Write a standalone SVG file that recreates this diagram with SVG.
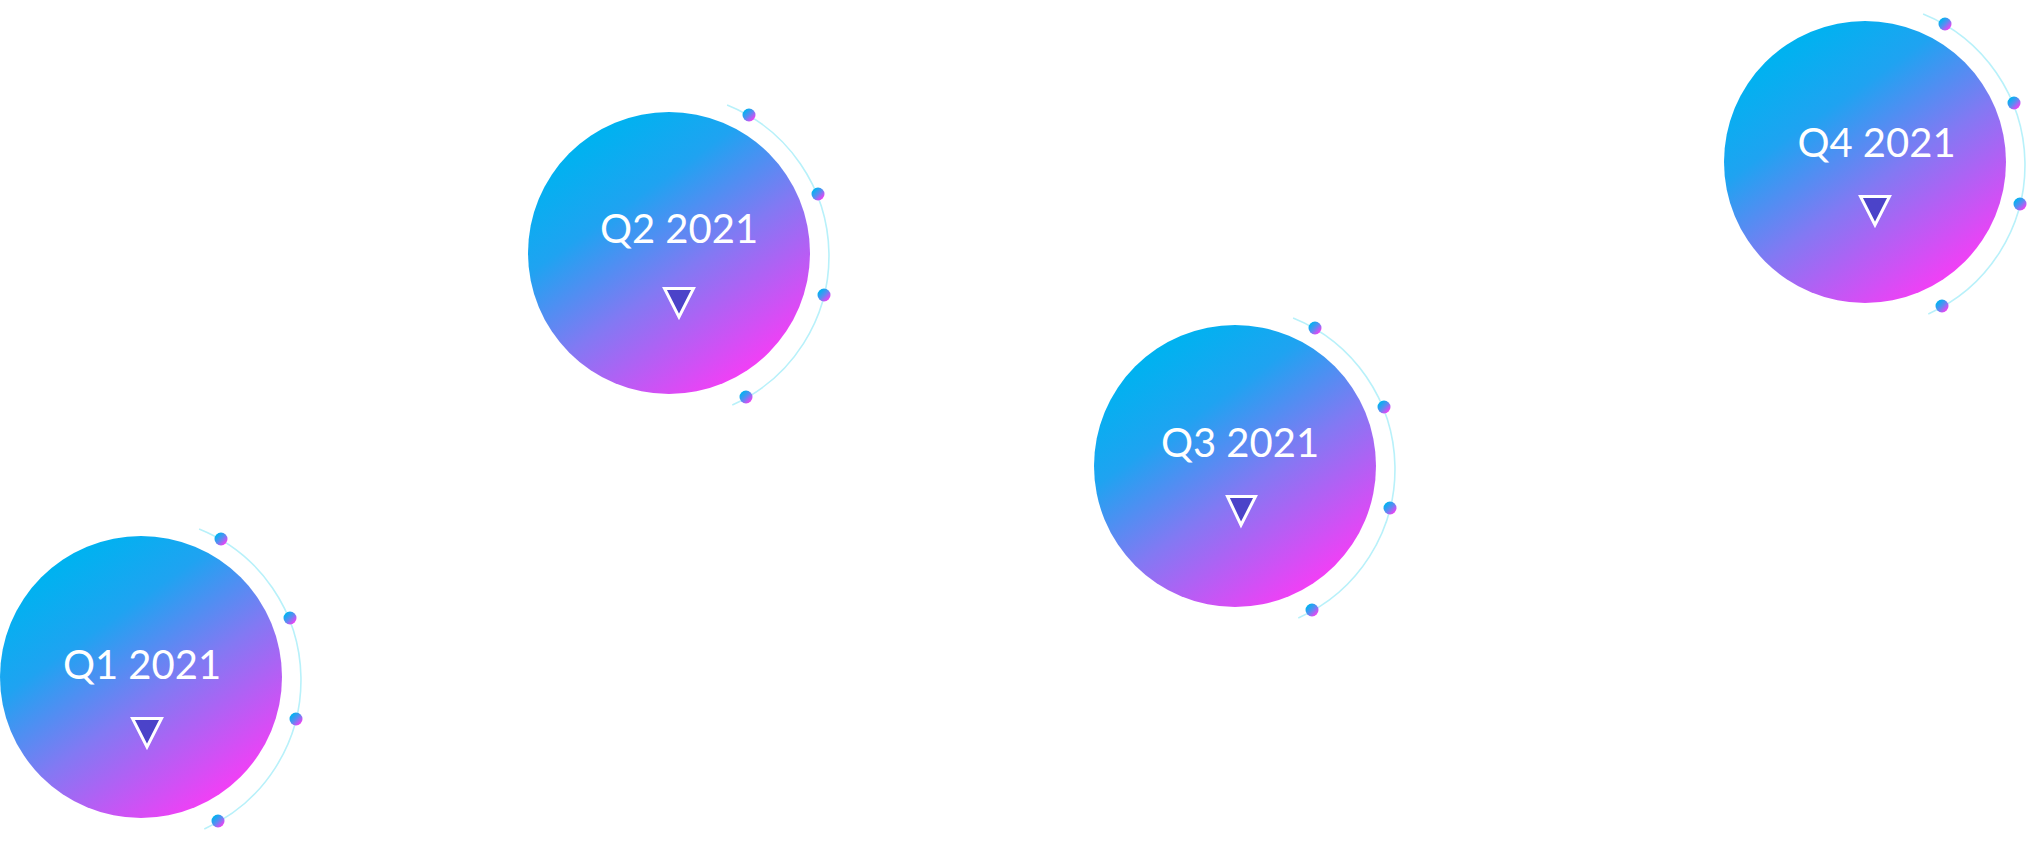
<svg xmlns="http://www.w3.org/2000/svg" width="2028" height="842" viewBox="0 0 2028 842">
  <defs>
    <linearGradient id="bub" x1="0.22" y1="0.1" x2="0.82" y2="0.95">
      <stop offset="0" stop-color="#00b2f0"/>
      <stop offset="0.25" stop-color="#1fa3f1"/>
      <stop offset="0.55" stop-color="#8279f3"/>
      <stop offset="1" stop-color="#ff38f6"/>
    </linearGradient>
    <linearGradient id="dot" x1="0" y1="0" x2="1" y2="1">
      <stop offset="0.2" stop-color="#08b0f0"/>
      <stop offset="0.5" stop-color="#5a8cf2"/>
      <stop offset="0.85" stop-color="#f23ff4"/>
    </linearGradient>
    <g id="deco">
      <path class="arc" d="M58.1,-148.1 A163,163 0 0 1 63.3,151.9"/>
      <circle class="bubble" r="141"/>
      <circle class="dt" cx="80" cy="-138" r="6.5"/>
      <circle class="dt" cx="149" cy="-59" r="6.5"/>
      <circle class="dt" cx="155" cy="42" r="6.5"/>
      <circle class="dt" cx="77" cy="144" r="6.5"/>
    </g>
  </defs>
  <style>
    .arc { fill: none; stroke: #b8f1fa; stroke-width: 1.6; }
    .bubble { fill: url(#bub); }
    .dt { fill: url(#dot); }
    .lbl { font-family: Lato, "Noto Sans", sans-serif; font-size: 40px; fill: #ffffff; text-anchor: middle; }
    .tri { fill: #4b43c9; stroke: #ffffff; stroke-width: 3; stroke-linejoin: miter; }
  </style>
  <rect width="2028" height="842" fill="#ffffff"/>

  <g id="node-q1" transform="translate(141,677)">
    <use href="#deco"/>
    <text class="lbl" x="1" y="2">Q1 2021</text>
    <path class="tri" d="M-8.5,41.5 L20.5,41.5 L6,70 Z"/>
  </g>

  <g id="node-q2" transform="translate(669,253)">
    <use href="#deco"/>
    <text class="lbl" x="10" y="-10">Q2 2021</text>
    <path class="tri" d="M-4.5,35.5 L24.5,35.5 L10,64 Z"/>
  </g>

  <g id="node-q3" transform="translate(1235,466)">
    <use href="#deco"/>
    <text class="lbl" x="5" y="-9">Q3 2021</text>
    <path class="tri" d="M-7.5,30.5 L20.5,30.5 L6,59 Z"/>
  </g>

  <g id="node-q4" transform="translate(1865,162)">
    <use href="#deco"/>
    <text class="lbl" x="11.5" y="-5">Q4 2021</text>
    <path class="tri" d="M-4.5,34.5 L24.5,34.5 L10,63 Z"/>
  </g>

  <g id="connectors"/>
</svg>
